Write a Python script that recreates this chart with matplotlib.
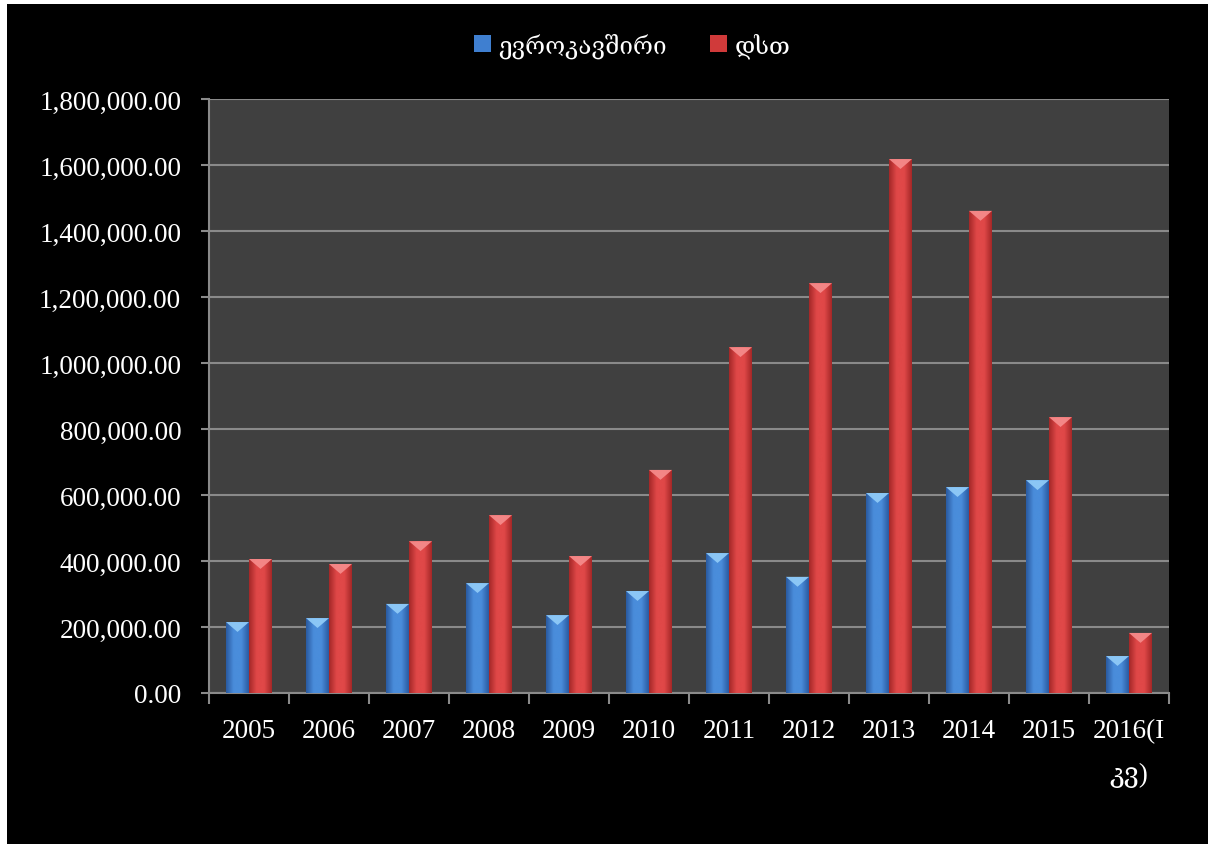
import matplotlib
matplotlib.use("Agg")
import matplotlib.pyplot as plt
import numpy as np
from matplotlib.patches import Patch, Polygon, Rectangle
from matplotlib.colors import LinearSegmentedColormap
from matplotlib.ticker import FuncFormatter, FixedLocator

years = ["2005", "2006", "2007", "2008", "2009", "2010", "2011",
         "2012", "2013", "2014", "2015", "2016(I\nკვ)"]
eu = [215000, 227000, 270000, 333000, 236000, 309000, 424000,
      352000, 606000, 624000, 645000, 112000]
cis = [406000, 391000, 460000, 539000, 415000, 676000, 1048000,
       1242000, 1618000, 1461000, 836000, 182000]
series_names = ["ევროკავშირი", "დსთ"]

FONT = ["Liberation Serif", "DejaVu Serif", "DejaVu Sans"]
plt.rcParams["font.family"] = FONT

fig = plt.figure(figsize=(12.08, 8.45), dpi=100, facecolor="white")
# black canvas with a thin white margin on the left and top
fig.patches.append(Rectangle((7 / 1208, 0), 1, 1 - 5 / 845, transform=fig.transFigure,
                             facecolor="black", edgecolor="none", zorder=-10))

ax = fig.add_axes([209 / 1208, 151 / 845, 960 / 1208, 594 / 845])
ax.set_facecolor("#404040")

x = np.arange(len(years))
w = 0.2875

styles = {
    "eu": dict(edge="#2a5aa0", mid="#4a8ddb", tri="#8fcaf7"),
    "cis": dict(edge="#a42828", mid="#e04848", tri="#f58a8a"),
}


def draw_bars(offsets, values, st):
    bars = ax.bar(offsets, values, width=w, color=st["mid"], edgecolor="none", zorder=3)
    cmap = LinearSegmentedColormap.from_list(
        "g", [st["edge"], st["mid"], st["mid"], st["edge"]])
    grad = np.linspace(0, 1, 64).reshape(1, -1)
    for b in bars:
        x0, y0 = b.get_x(), b.get_y()
        bw, bh = b.get_width(), b.get_height()
        im = ax.imshow(grad, cmap=cmap, aspect="auto", extent=(x0, x0 + bw, y0, y0 + bh),
                       zorder=3.5, interpolation="bicubic")
        im.set_clip_path(b)
        # bevelled top: light triangle pointing down
        depth = 30000
        tri = Polygon([(x0, y0 + bh), (x0 + bw, y0 + bh), (x0 + bw / 2, y0 + bh - depth)],
                      closed=True, facecolor=st["tri"], edgecolor="none", zorder=4, alpha=0.95)
        ax.add_patch(tri)
    return bars


draw_bars(x - w / 2, eu, styles["eu"])
draw_bars(x + w / 2, cis, styles["cis"])

ax.set_xlim(-0.5, len(years) - 0.5)
ax.set_ylim(0, 1800000)
ax.set_yticks(np.arange(0, 1800001, 200000))
ax.yaxis.set_major_formatter(FuncFormatter(lambda v, p: f"{v:,.2f}"))
ax.grid(axis="y", color="#8a8a8a", linewidth=1.5, zorder=1)
ax.set_axisbelow(True)

ax.set_xticks(x)
ax.set_xticklabels(years)
ax.get_xticklabels()[-1].set_linespacing(2.0)
ax.xaxis.set_minor_locator(FixedLocator(np.arange(-0.5, len(years), 1.0)))
ax.tick_params(axis="x", which="major", length=0, pad=18, labelsize=19.5, colors="white")
ax.tick_params(axis="x", which="minor", length=8, width=1.5, color="#8a8a8a")
ax.tick_params(axis="y", length=6, width=1.5, color="#8a8a8a", pad=14,
               labelsize=19.5, labelcolor="white")

for s in ["top", "right"]:
    ax.spines[s].set_visible(False)
for s in ["left", "bottom"]:
    ax.spines[s].set_color("#8a8a8a")
    ax.spines[s].set_linewidth(1.5)

handles = [Patch(facecolor="#3f7fd0", edgecolor="none"),
           Patch(facecolor="#d03a3a", edgecolor="none")]
leg = fig.legend(handles, series_names, loc="center", bbox_to_anchor=(632 / 1208, 1 - 46 / 845),
                 ncol=2, frameon=False, fontsize=17.5, labelcolor="white",
                 handlelength=0.7, handleheight=0.7, handletextpad=0.3, columnspacing=1.8)

fig.savefig("out.png", dpi=100, facecolor=fig.get_facecolor())
